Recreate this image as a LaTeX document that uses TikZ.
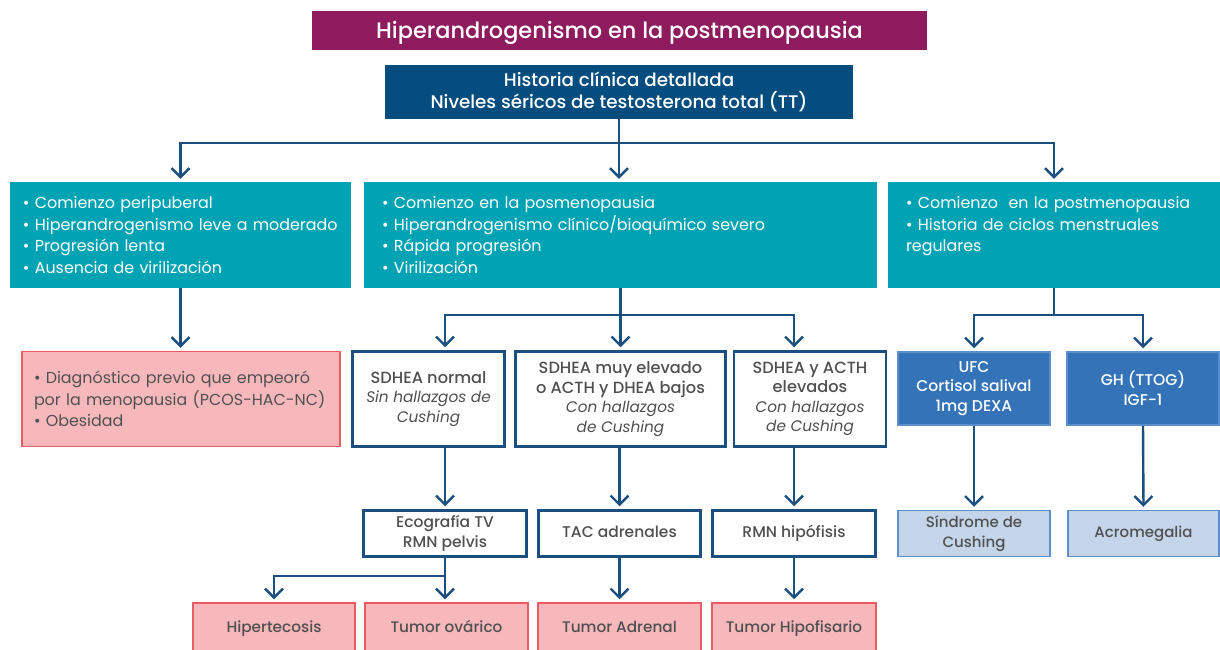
\documentclass[tikz,border=0pt]{standalone}
\usepackage{fontspec}
\setmainfont{Poppins}[BoldFont={Poppins Medium},BoldItalicFont={Poppins Medium Italic}]
\usetikzlibrary{arrows.meta}

\definecolor{plum}{HTML}{8E1B5E}
\definecolor{navy}{HTML}{054D7E}
\definecolor{tealbg}{HTML}{00A3B3}
\definecolor{linkblue}{HTML}{1A4F80}
\definecolor{pinkbg}{HTML}{F7B8BB}
\definecolor{pinkline}{HTML}{EC5A62}
\definecolor{midblue}{HTML}{3573B9}
\definecolor{midline}{HTML}{5B8FCB}
\definecolor{paleblue}{HTML}{C4D5EA}
\definecolor{greytext}{HTML}{505050}

\newcommand{\hall}[1]{{\fontsize{15.3}{19.5}\selectfont\mdseries\itshape #1}}

\tikzset{
  box/.style={inner sep=0pt, align=center},
  oneline/.style={text height=11pt, text depth=3.5pt},
  titlebox/.style={box, fill=plum, text=white, minimum width=615, minimum height=39,
    text height=20pt, text depth=3pt, font=\fontsize{22.4}{26}\selectfont\bfseries},
  histbox/.style={box, fill=navy, text=white, minimum width=468, minimum height=54,
    font=\fontsize{18.3}{21.5}\selectfont\bfseries},
  tealbox/.style={fill=tealbg, text=white, inner xsep=15pt, inner ysep=0pt, align=left,
    minimum height=106, font=\fontsize{15.9}{21.7}\selectfont},
  pinkbox/.style={fill=pinkbg, draw=pinkline, line width=1.5pt, text=greytext},
  testbox/.style={box, fill=white, draw=linkblue, line width=2.5pt, text=greytext,
    font=\fontsize{16.2}{19.5}\selectfont\bfseries},
  cortbox/.style={box, fill=midblue, draw=midline, line width=1.5pt, text=white,
    minimum width=152, minimum height=73, font=\fontsize{15.6}{19.5}\selectfont\bfseries},
  resbox/.style={box, fill=paleblue, draw=midline, line width=1.5pt, text=greytext,
    minimum height=46, font=\fontsize{15}{19.5}\selectfont\bfseries},
  tumorbox/.style={box, pinkbox, oneline, minimum height=52, font=\fontsize{15.3}{19.5}\selectfont\bfseries},
}

\begin{document}
\begin{tikzpicture}[x=1pt,y=-1pt,
    >={Straight Barb[length=9pt,width=18pt]},
    link/.style={->, draw=linkblue, line width=2.4pt, shorten >=3pt}]
  \useasboundingbox (0,0) rectangle (1220,650);
  \clip (0,0) rectangle (1220,650);

  \node[titlebox] (Title) at (619.5,30.5) {Hiperandrogenismo en la postmenopausia};
  \node[histbox] (Hist) at (619,92) {Historia clínica detallada\\Niveles séricos de testosterona total (TT)};

  % three clinical profiles
  \node[tealbox, inner xsep=13pt, text width=315] (Peri) at (180.5,235) {• Comienzo peripuberal\\• Hiperandrogenismo leve a moderado\\• Progresión lenta\\• Ausencia de virilización};
  \node[tealbox, inner xsep=18pt, text width=477] (Posm) at (620.5,235) {• Comienzo en la posmenopausia\\• Hiperandrogenismo clínico/bioquímico severo\\• Rápida progresión\\• Virilización};
  \node[tealbox, inner xsep=18pt, text width=296] (Ciclos) at (1054,235) {• Comienzo\ \ en la postmenopausia\\• Historia de ciclos menstruales\\regulares\\\mbox{}};

  \node[pinkbox, align=left, inner xsep=12pt, inner ysep=0pt, text width=294, minimum height=95,
    font=\fontsize{15.9}{21.5}\selectfont] (Previo) at (181,399) {• Diagnóstico previo que empeoró\\por la menopausia (PCOS-HAC-NC)\\• Obesidad};

  % hormone tests
  \node[testbox, minimum width=152, minimum height=95] (Normal) at (428.5,399) {SDHEA normal\\\hall{Sin hallazgos de}\\\hall{Cushing}};
  \node[testbox, minimum width=210, minimum height=95] (MuyElev) at (620.5,399) {SDHEA muy elevado\\o ACTH y DHEA bajos\\\hall{Con hallazgos}\\\hall{de Cushing}};
  \node[testbox, minimum width=152, minimum height=95] (Acth) at (810,399) {SDHEA y ACTH\\elevados\\\hall{Con hallazgos}\\\hall{de Cushing}};
  \node[cortbox] (Cort) at (974,388.5) {UFC\\Cortisol salival\\1mg DEXA};
  \node[cortbox] (Gh) at (1143,388.5) {GH (TTOG)\\IGF-1};

  % imaging
  \node[testbox, minimum width=163, minimum height=46, font=\fontsize{15.5}{19.5}\selectfont\bfseries] (Eco) at (445,533.5) {Ecografía TV\\RMN pelvis};
  \node[testbox, oneline, minimum width=162, minimum height=46, font=\fontsize{15.5}{19.5}\selectfont\bfseries] (Tac) at (619.5,533.5) {TAC adrenales};
  \node[testbox, oneline, minimum width=163, minimum height=46, font=\fontsize{15.5}{19.5}\selectfont\bfseries] (Rmnh) at (794,533.5) {RMN hipófisis};
  \node[resbox, minimum width=152] (Cush) at (974,533.5) {Síndrome de\\Cushing};
  \node[resbox, oneline, minimum width=151] (Acro) at (1143.5,533.5) {Acromegalia};

  % diagnoses
  \node[tumorbox, minimum width=162] (Hiper) at (274,629) {Hipertecosis};
  \node[tumorbox, minimum width=163] (Ovar) at (446.5,629) {Tumor ovárico};
  \node[tumorbox, minimum width=163] (Adren) at (619.5,629) {Tumor Adrenal};
  \node[tumorbox, minimum width=164] (Hipof) at (794,629) {Tumor Hipofisario};

  % connectors
  \draw[link] (Hist.south) -- ++(0,24) -| (Peri.north);
  \draw[link] (Hist.south) -- (Hist.south |- Posm.north);
  \draw[link] (Hist.south) -- ++(0,24) -| (Ciclos.north);
  \draw[link] (Peri.south) -- (Peri.south |- Previo.north);
  \draw[link] (Posm.south) -- ++(0,27) -| (Normal.north -| Eco.north);
  \draw[link] (Posm.south) -- (Posm.south |- MuyElev.north);
  \draw[link] (Posm.south) -- ++(0,27) -| (Acth.north -| Rmnh.north);
  \draw[link] (Ciclos.south) -- ++(0,27) -| (Cort.north);
  \draw[link] (Ciclos.south) -- ++(0,27) -| (Gh.north);
  \draw[link] (Normal.south -| Eco.north) -- (Eco.north);
  \draw[link] (MuyElev.south -| Tac.north) -- (Tac.north);
  \draw[link] (Acth.south -| Rmnh.north) -- (Rmnh.north);
  \draw[link] (Cort.south) -- (Cush.north);
  \draw[link] (Gh.south) -- (Acro.north);
  \draw[link] (Eco.south) -- ++(0,18) -| (Hiper.north);
  \draw[link] (Eco.south) -- (Eco.south |- Ovar.north);
  \draw[link] (Tac.south) -- (Tac.south |- Adren.north);
  \draw[link] (Rmnh.south) -- (Rmnh.south |- Hipof.north);
\end{tikzpicture}
\end{document}
